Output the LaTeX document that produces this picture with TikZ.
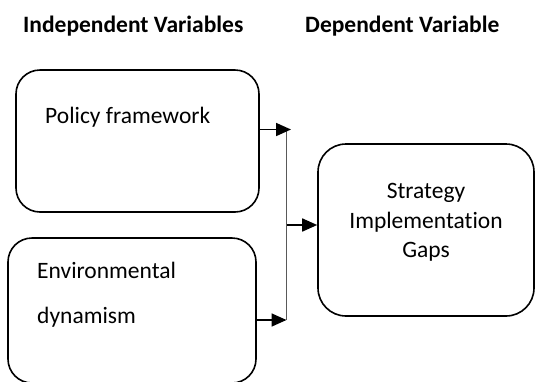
\documentclass[tikz,border=0pt]{standalone}
\usepackage{fontspec}
\setmainfont{Carlito}[Ligatures={NoCommon}]
\usetikzlibrary{arrows.meta}
\begin{document}
\begin{tikzpicture}[x=1pt,y=-1pt,
  box/.style={draw=black,line width=1.6pt,rounded corners=24pt,inner sep=0pt},
  lbl/.style={inner sep=0pt,font=\fontsize{23.5}{28}\selectfont},
  head/.style={inner sep=0pt,font=\fontsize{23.5}{28}\selectfont\bfseries},
  arr/.style={line width=1.7pt,-{Triangle[length=15pt,width=13pt]}},
  vline/.style={line width=1.4pt,draw=black!65}]
\useasboundingbox (0,0) rectangle (535,381);
% headers
\node[head,anchor=base west] (hind) at (23,32) {Independent Variables};
\node[head,anchor=base west] (hdep) at (305,32) {Dependent Variable};
% boxes
\node[box,minimum width=243pt,minimum height=142pt] (b1) at (137.5,141) {};
\node[box,minimum width=248pt,minimum height=145pt] (b2) at (132,310.5) {};
\node[box,rounded corners=28pt,minimum width=216pt,minimum height=172pt] (b3) at (426,230) {};
% texts
\node[lbl,anchor=base west] (t1) at (45,123) {Policy framework};
\node[lbl,anchor=base west] (t2a) at (37,278) {Environmental};
\node[lbl,anchor=base west] (t2b) at (37,323) {dynamism};
\node[lbl,anchor=base] (t3a) at (426,198) {Strategy};
\node[lbl,anchor=base] (t3b) at (426,228) {Implementation};
\node[lbl,anchor=base] (t3c) at (426,257) {Gaps};
% connectors
\coordinate (jt) at (286.5,129.5);
\coordinate (jm) at (286.5,225);
\coordinate (jb) at (286.5,320);
\coordinate (tt) at (291,129.5);
\draw[vline] (jt) -- (jb);
\draw[arr] (b1.east |- jt) -- (tt);
\draw[arr] (b2.east |- jb) -- (jb);
\draw[arr] (jm) -- (b3.west |- jm);
\end{tikzpicture}
\end{document}
